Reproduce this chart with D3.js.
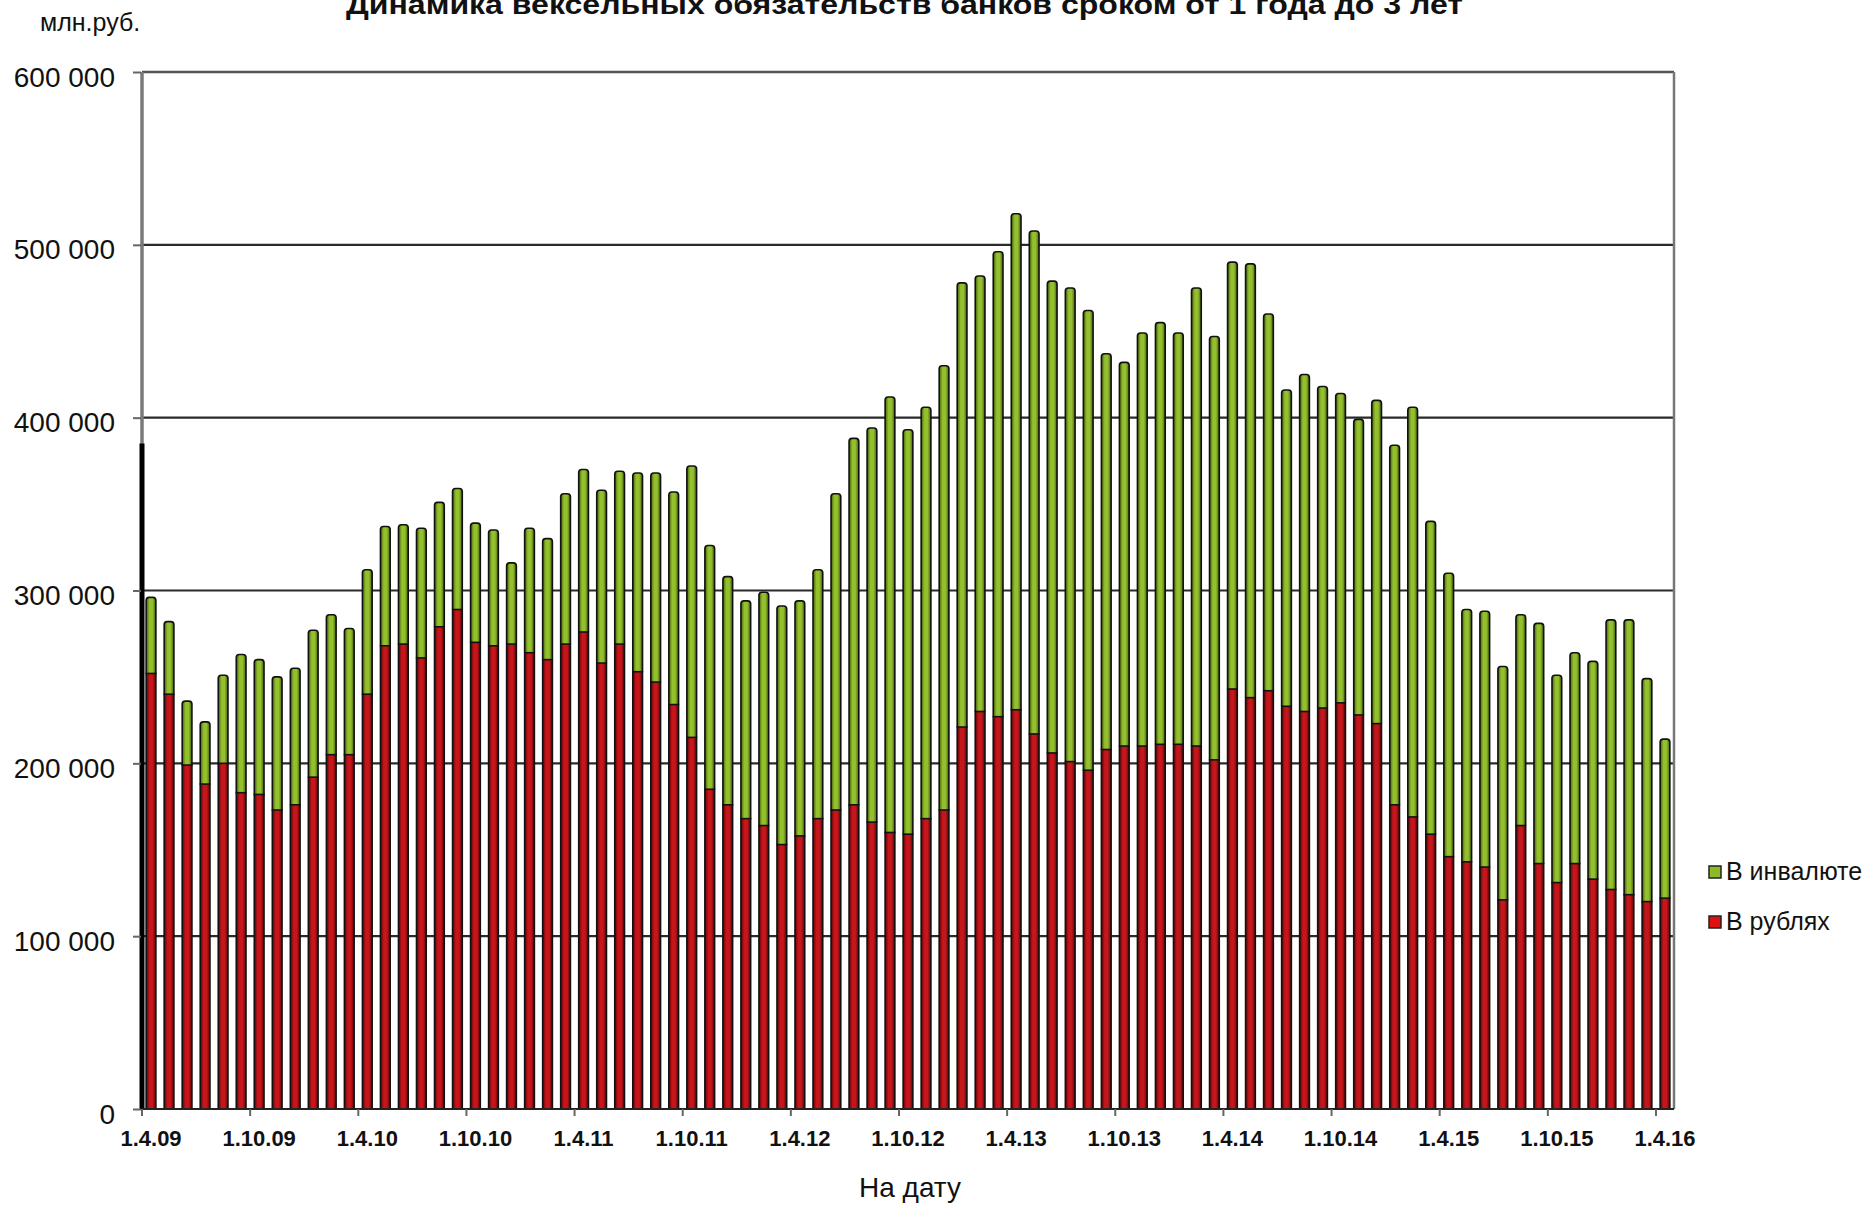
<!doctype html>
<html>
<head>
<meta charset="utf-8">
<script src="https://cdnjs.cloudflare.com/ajax/libs/d3/7.8.5/d3.min.js"></script>
<style>
  body { margin: 0; background: #fff; }
  svg { display: block; font-family: "Liberation Sans", Arial, sans-serif; }
  .domain { display: none; }
</style>
</head>
<body>
<svg id="chart" width="1871" height="1211"></svg>
<script>
// months from 1.4.09 to 1.4.16
var dates = [
  "1.4.09","1.5.09","1.6.09","1.7.09","1.8.09","1.9.09","1.10.09","1.11.09","1.12.09",
  "1.1.10","1.2.10","1.3.10","1.4.10","1.5.10","1.6.10","1.7.10","1.8.10","1.9.10","1.10.10","1.11.10","1.12.10",
  "1.1.11","1.2.11","1.3.11","1.4.11","1.5.11","1.6.11","1.7.11","1.8.11","1.9.11","1.10.11","1.11.11","1.12.11",
  "1.1.12","1.2.12","1.3.12","1.4.12","1.5.12","1.6.12","1.7.12","1.8.12","1.9.12","1.10.12","1.11.12","1.12.12",
  "1.1.13","1.2.13","1.3.13","1.4.13","1.5.13","1.6.13","1.7.13","1.8.13","1.9.13","1.10.13","1.11.13","1.12.13",
  "1.1.14","1.2.14","1.3.14","1.4.14","1.5.14","1.6.14","1.7.14","1.8.14","1.9.14","1.10.14","1.11.14","1.12.14",
  "1.1.15","1.2.15","1.3.15","1.4.15","1.5.15","1.6.15","1.7.15","1.8.15","1.9.15","1.10.15","1.11.15","1.12.15",
  "1.1.16","1.2.16","1.3.16","1.4.16"
];

// В рублях, млн.руб.
var rub = [
  252000,240000,199000,188000,200000,183000,182000,173000,176000,
  192000,205000,205000,240000,268000,269000,261000,279000,289000,270000,268000,269000,
  264000,260000,269000,276000,258000,269000,253000,247000,234000,215000,185000,176000,
  168000,164000,153000,158000,168000,173000,176000,166000,160000,159000,168000,173000,
  221000,230000,227000,231000,217000,206000,201000,196000,208000,210000,210000,211000,
  211000,210000,202000,243000,238000,242000,233000,230000,232000,235000,228000,223000,
  176000,169000,159000,146000,143000,140000,121000,164000,142000,131000,142000,133000,
  127000,124000,120000,122000
];

// В инвалюте, млн.руб.
var fx = [
  44000,42000,37000,36000,51000,80000,78000,77000,79000,
  85000,81000,73000,72000,69000,69000,75000,72000,70000,69000,67000,47000,
  72000,70000,87000,94000,100000,100000,115000,121000,123000,157000,141000,132000,
  126000,135000,138000,136000,144000,183000,212000,228000,252000,234000,238000,257000,
  257000,252000,269000,287000,291000,273000,274000,266000,229000,222000,239000,244000,
  238000,265000,245000,247000,251000,218000,183000,195000,186000,179000,171000,187000,
  208000,237000,181000,164000,146000,148000,135000,122000,139000,120000,122000,126000,
  156000,159000,129000,92000
];

var xTickLabels = ["1.4.09","1.10.09","1.4.10","1.10.10","1.4.11","1.10.11","1.4.12","1.10.12",
                   "1.4.13","1.10.13","1.4.14","1.10.14","1.4.15","1.10.15","1.4.16"];
var yTicks = [0,100000,200000,300000,400000,500000,600000];
var yTickLabels = ["0","100 000","200 000","300 000","400 000","500 000","600 000"];
var seriesNames = ["В инвалюте","В рублях"];
var leftMarkValue = 385000;

var svg = d3.select("#chart");

var x = d3.scaleBand().domain(dates).range([142, 1674]).paddingInner(0.46).paddingOuter(0.23);
var y = d3.scaleLinear().domain([0, 600000]).range([1109, 72]);

// bar shading
var defs = svg.append("defs");
function grad(id, edge, mid) {
  var g = defs.append("linearGradient").attr("id", id).attr("x1", 0).attr("x2", 1).attr("y1", 0).attr("y2", 0);
  g.append("stop").attr("offset", "0%").attr("stop-color", edge);
  g.append("stop").attr("offset", "35%").attr("stop-color", mid);
  g.append("stop").attr("offset", "65%").attr("stop-color", mid);
  g.append("stop").attr("offset", "100%").attr("stop-color", edge);
}
grad("gGreen", "#46600f", "#93c02c");
grad("gRed", "#5c0505", "#c5161c");

// grid
svg.append("g").selectAll("line")
  .data(yTicks.slice(1))
  .enter().append("line")
    .attr("x1", 142).attr("x2", 1674)
    .attr("y1", d => y(d)).attr("y2", d => y(d))
    .attr("stroke", "#2a2a2a").attr("stroke-width", 2.2);

// bars
var data = dates.map((d, i) => ({date: d, rub: rub[i], fx: fx[i]}));

svg.append("g").selectAll("rect.fx")
  .data(data)
  .enter().append("rect")
    .attr("class", "fx")
    .attr("x", d => x(d.date))
    .attr("width", x.bandwidth())
    .attr("y", d => y(d.rub + d.fx))
    .attr("height", d => y(d.rub) - y(d.rub + d.fx) + 2)
    .attr("rx", 3)
    .attr("fill", "url(#gGreen)")
    .attr("stroke", "#111").attr("stroke-width", 1.6);

svg.append("g").selectAll("rect.rub")
  .data(data)
  .enter().append("rect")
    .attr("class", "rub")
    .attr("x", d => x(d.date))
    .attr("width", x.bandwidth())
    .attr("y", d => y(d.rub))
    .attr("height", d => y(0) - y(d.rub))
    .attr("fill", "url(#gRed)")
    .attr("stroke", "#111").attr("stroke-width", 1.6);

// frame
svg.append("line").attr("x1", 142).attr("x2", 1674).attr("y1", y(600000)).attr("y2", y(600000))
  .attr("stroke", "#555").attr("stroke-width", 2.5);
svg.append("line").attr("x1", 1674).attr("x2", 1674).attr("y1", y(600000)).attr("y2", y(0))
  .attr("stroke", "#777").attr("stroke-width", 2.5);
svg.append("line").attr("x1", 142).attr("x2", 142).attr("y1", y(600000)).attr("y2", y(0))
  .attr("stroke", "#7a7a7a").attr("stroke-width", 3.5);
svg.append("line").attr("x1", 142).attr("x2", 142).attr("y1", y(leftMarkValue)).attr("y2", y(0))
  .attr("stroke", "#000").attr("stroke-width", 5);
svg.append("line").attr("x1", 142).attr("x2", 1674).attr("y1", y(0)).attr("y2", y(0))
  .attr("stroke", "#222").attr("stroke-width", 2);

// y axis
var yAxis = d3.axisLeft(y).tickValues(yTicks).tickSize(8).tickPadding(18)
  .tickFormat((d, i) => yTickLabels[i]);
var yG = svg.append("g").attr("transform", "translate(141,0)").call(yAxis);
yG.selectAll(".tick line").attr("stroke", "#666").attr("stroke-width", 2);
yG.selectAll(".tick text")
  .attr("font-size", 28).attr("fill", "#111")
  .attr("font-family", "Liberation Sans, Arial, sans-serif")
  .attr("dy", "0.5em");

// x axis: labels at category centres, ticks on category boundaries
var xAxis = d3.axisBottom(x).tickValues(xTickLabels).tickSize(0).tickPadding(21);
var xG = svg.append("g").attr("transform", "translate(0," + y(0) + ")").call(xAxis);
xG.selectAll(".tick text")
  .attr("font-size", 22).attr("font-weight", "bold").attr("fill", "#111")
  .attr("font-family", "Liberation Sans, Arial, sans-serif");
svg.append("g").selectAll("line")
  .data(xTickLabels)
  .enter().append("line")
    .attr("x1", d => x(d) - x.step() * x.paddingInner() / 2)
    .attr("x2", d => x(d) - x.step() * x.paddingInner() / 2)
    .attr("y1", y(0)).attr("y2", y(0) + 7)
    .attr("stroke", "#666").attr("stroke-width", 2);

// texts
svg.append("text")
  .attr("x", 346).attr("y", 14)
  .attr("textLength", 1117).attr("lengthAdjust", "spacingAndGlyphs")
  .attr("font-size", 27).attr("font-weight", "bold").attr("fill", "#111")
  .text("Динамика вексельных обязательств банков сроком от 1 года до 3 лет");

svg.append("text")
  .attr("x", 40).attr("y", 31)
  .attr("font-size", 25).attr("fill", "#111")
  .text("млн.руб.");

svg.append("text")
  .attr("x", 910).attr("y", 1197)
  .attr("text-anchor", "middle")
  .attr("font-size", 28).attr("fill", "#111")
  .text("На дату");

// legend
var legColors = ["#8dba28", "#e01010"];
var leg = svg.append("g").selectAll("g")
  .data(seriesNames)
  .enter().append("g")
    .attr("transform", (d, i) => "translate(1709," + (866 + i * 50) + ")");
leg.append("rect")
  .attr("width", 12).attr("height", 12)
  .attr("fill", (d, i) => legColors[i])
  .attr("stroke", "#222").attr("stroke-width", 1.5);
leg.append("text")
  .attr("x", 17).attr("y", 14)
  .attr("font-size", 25).attr("fill", "#111")
  .text(d => d);
</script>
</body>
</html>
